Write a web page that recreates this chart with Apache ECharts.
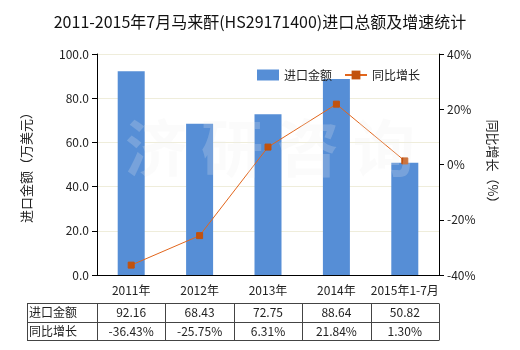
<!DOCTYPE html>
<html><head><meta charset="utf-8">
<script src="https://cdn.jsdelivr.net/npm/echarts@6/dist/echarts.min.js"></script>
<style>html,body{margin:0;padding:0;background:#fff}#c{width:520px;height:350px}</style>
</head><body><div id="c"></div>
<script>
var categories = ['2011年', '2012年', '2013年', '2014年', '2015年1-7月'];
var importValues = [92.16, 68.43, 72.75, 88.64, 50.82];
var growthValues = [-36.43, -25.75, 6.31, 21.84, 1.30];
var leftTicks = [0, 20, 40, 60, 80, 100];
var rightTicks = [-40, -20, 0, 20, 40];
var seriesNames = ['进口金额', '同比增长'];

var FONT = '"Noto Sans CJK SC", "Noto Sans", sans-serif';
var gridL = 97, gridR = 439, gridT = 54, gridB = 275;
var chart = echarts.init(document.getElementById('c'));

// table built from the arrays
var tableEls = [];
var tTop = 303, rowH = 18.5, firstColL = 27;
var colW = (gridR - gridL) / categories.length;
var rows = [
  {label: seriesNames[0], vals: importValues.map(function(v){return v.toFixed(2);})},
  {label: seriesNames[1], vals: growthValues.map(function(v){return v.toFixed(2) + '%';})}
];
var lineStyle = {stroke: '#444', lineWidth: 1};
for (var r = 0; r <= rows.length; r++) {
  var y = Math.round(tTop + r * rowH) + 0.5;
  tableEls.push({type: 'line', shape: {x1: firstColL, y1: y, x2: gridR, y2: y}, style: lineStyle, silent: true});
}
var vx = [firstColL, gridL];
for (var c = 1; c <= categories.length; c++) vx.push(gridL + c * colW);
vx.forEach(function(x){
  var xx = Math.round(x) + 0.5;
  tableEls.push({type: 'line', shape: {x1: xx, y1: tTop + 0.5, x2: xx, y2: Math.round(tTop + rows.length * rowH) + 0.5}, style: lineStyle, silent: true});
});
rows.forEach(function(row, ri){
  var cy = tTop + ri * rowH + rowH / 2 + 0.5;
  tableEls.push({type: 'text', x: firstColL + 2, y: cy, style: {text: row.label, font: '12px ' + FONT, fill: '#222', textAlign: 'left', textVerticalAlign: 'middle'}, silent: true});
  row.vals.forEach(function(v, ci){
    tableEls.push({type: 'text', x: gridL + ci * colW + colW / 2, y: cy, style: {text: v, font: '12px ' + FONT, fill: '#222', textAlign: 'center', textVerticalAlign: 'middle'}, silent: true});
  });
});
// watermark
tableEls.push({type: 'text', x: 270, y: 148, z: 100, style: {text: '济 研 咨 询', font: 'bold 62px ' + FONT, fill: 'rgba(236,236,236,0.22)', textAlign: 'center', textVerticalAlign: 'middle'}, silent: true});

chart.setOption({
  animation: false,
  backgroundColor: '#fff',
  title: {
    text: '2011-2015年7月马来酐(HS29171400)进口总额及增速统计',
    left: 'center', top: 9,
    textStyle: {fontFamily: FONT, fontSize: 16, fontWeight: 'normal', color: '#111'}
  },
  legend: {
    left: 252, top: 64,
    itemWidth: 22, itemHeight: 11, itemGap: 12,
    textStyle: {fontFamily: FONT, fontSize: 12, color: '#222'},
    data: [
      {name: seriesNames[0], icon: 'rect'},
      {name: seriesNames[1]}
    ]
  },
  grid: {left: gridL, right: 520 - gridR, top: gridT, bottom: 350 - gridB, containLabel: false},
  xAxis: {
    type: 'category', data: categories,
    axisLine: {lineStyle: {color: '#000', width: 1}},
    axisTick: {alignWithLabel: true, length: 5, lineStyle: {color: '#000'}},
    axisLabel: {fontFamily: FONT, fontSize: 12, color: '#222', margin: 9, interval: 0}
  },
  yAxis: [
    {
      type: 'value', min: leftTicks[0], max: leftTicks[leftTicks.length - 1], interval: 20,
      name: '进口金额（万美元）', nameLocation: 'middle', nameGap: 64, nameRotate: 90,
      nameTextStyle: {fontFamily: FONT, fontSize: 13, color: '#222'},
      axisLine: {show: true, lineStyle: {color: '#000'}},
      axisTick: {show: true, length: 5, lineStyle: {color: '#000'}},
      axisLabel: {fontFamily: FONT, fontSize: 12, color: '#222', margin: 8, formatter: function(v){return v.toFixed(1);}},
      splitLine: {show: true, lineStyle: {color: '#efeddb', width: 1}}
    },
    {
      type: 'value', min: rightTicks[0], max: rightTicks[rightTicks.length - 1], interval: 20,
      name: '同比增长（%）', nameLocation: 'middle', nameGap: 44, nameRotate: -90,
      nameTextStyle: {fontFamily: FONT, fontSize: 13, color: '#222'},
      axisLine: {show: true, lineStyle: {color: '#000'}},
      axisTick: {show: true, length: 5, lineStyle: {color: '#000'}},
      axisLabel: {fontFamily: FONT, fontSize: 12, color: '#222', margin: 8, formatter: '{value}%'},
      splitLine: {show: false}
    }
  ],
  series: [
    {
      name: seriesNames[0], type: 'bar', data: importValues, barWidth: 27,
      itemStyle: {color: '#568ed6'}
    },
    {
      name: seriesNames[1], type: 'line', yAxisIndex: 1, data: growthValues,
      symbol: 'rect', symbolSize: 6, showAllSymbol: true,
      lineStyle: {color: '#e2661c', width: 1},
      itemStyle: {color: '#c2520e', borderColor: '#c2520e'}
    }
  ],
  graphic: tableEls
});
</script></body></html>
